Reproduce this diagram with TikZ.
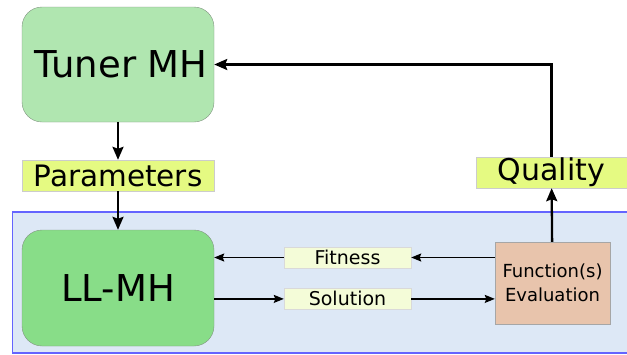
\documentclass[tikz,border=0pt]{standalone}
\usepackage{fontspec}
\setmainfont{DejaVu Sans}
\usetikzlibrary{shapes, arrows, arrows.meta}
\usetikzlibrary{positioning}

\definecolor{tunergreen}{RGB}{176,230,176}
\definecolor{llgreen}{RGB}{136,221,136}
\definecolor{boxedge}{RGB}{130,150,130}
\definecolor{tagyellow}{RGB}{229,250,130}
\definecolor{paleyellow}{RGB}{244,252,216}
\definecolor{evalpeach}{RGB}{232,196,172}
\definecolor{panelblue}{RGB}{221,232,246}
\definecolor{paneledge}{RGB}{100,100,255}

\tikzstyle{metah} = [rectangle, rounded corners=20pt, minimum width=192pt, minimum height=115pt, text centered, draw=boxedge, font=\fontsize{37}{40}\selectfont]
\tikzstyle{tag} = [rectangle, minimum width=192pt, minimum height=31pt, inner sep=0pt, text centered, draw=black!20, fill=tagyellow]
\tikzstyle{smalltag} = [rectangle, minimum width=127pt, minimum height=21pt, inner sep=0pt, text centered, draw=black!15, fill=paleyellow, font=\fontsize{19}{20}\selectfont]
\tikzstyle{arrow} = [line width=2.3pt, -{Stealth[length=13pt, width=11pt, inset=2pt]}]
\tikzstyle{thinarrow} = [line width=1.5pt, -{Stealth[length=10pt, width=8pt, inset=1.5pt]}]

\begin{document}
\begin{tikzpicture}[x=1pt, y=-1pt]
    \useasboundingbox (0,0) rectangle (627,354);

    % Panel
    \fill[white] (0,0) rectangle (627,354);
    \draw[paneledge, fill=panelblue, line width=1.2pt] (12.5,212) rectangle (650,353);

    % Nodes
    \node (tuner) [metah, fill=tunergreen] at (118,64.5) {\hspace{6pt}Tuner MH};
    \node (params) [tag, font=\fontsize{29.5}{32}\selectfont] at (118,175.5) {Parameters};
    \node (llmh) [metah, fill=llgreen, minimum height=116pt] at (118,288) {LL-MH};
    \node (fitness) [smalltag] at (347.5,257.5) {Fitness};
    \node (solution) [smalltag, below=20pt of fitness] {Solution};
    \node (eval) [rectangle, minimum width=115pt, minimum height=82pt, inner sep=0pt, align=center, draw=black!35, fill=evalpeach, font=\fontsize{18}{24}\selectfont] at (552.5,283) {Function(s)\\Evaluation};
    \node (quality) [tag, minimum width=151pt, font=\fontsize{30}{32}\selectfont] at (551.5,172.5) {Quality};
    \coordinate (corner) at (551.5,64.5);

    % Arrows
    \draw [arrow] (tuner) -- (params);
    \draw [arrow] (params) -- (llmh);
    \draw [arrow] (eval) -- (quality);
    \draw [arrow] (quality.north) -- (corner) -- (tuner.east);
    \draw [thinarrow] (eval.west |- fitness) -- (fitness.east);
    \draw [thinarrow] (fitness.west) -- (llmh.east |- fitness);
    \draw [thinarrow] (llmh.east |- solution) -- (solution.west);
    \draw [thinarrow] (solution.east) -- (eval.west |- solution);

\end{tikzpicture}
\end{document}
